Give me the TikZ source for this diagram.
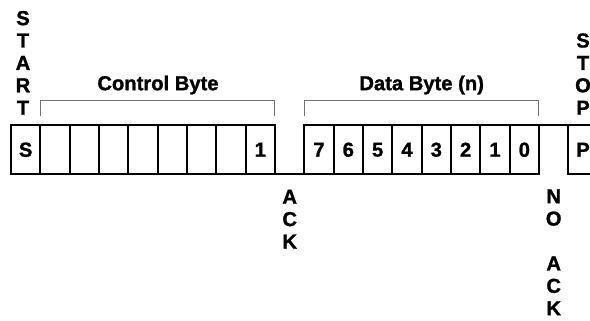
\documentclass[tikz,border=0pt]{standalone}
\usepackage{fontspec}
\newfontfamily\labfont{Liberation Sans}[BoldFeatures={FakeBold=1.2}]
\begin{document}
\begin{tikzpicture}[x=1pt,y=-1pt,
  lbl/.style={font=\labfont\bfseries\fontsize{20.2}{22}\selectfont, text height=14.4pt, text depth=0pt, inner sep=0pt},
  cell/.style={lbl, draw=black, line width=1.8pt, minimum width=29.333pt, minimum height=49pt, outer sep=0pt},
  bracket/.style={draw=black!55, line width=1pt},
  wire/.style={draw=black, line width=1.8pt, line join=miter}]
\useasboundingbox (0,0) rectangle (590,321);
\clip (0,0) rectangle (590,321);
% cells
\node[cell] (s) at (25.667,149.5) {S};
\foreach \i in {1,...,7}
  \node[cell] (c\i) at ({11+(\i+0.5)*29.333},149.5) {};
\node[cell] (c8) at ({11+8.5*29.333},149.5) {1};
\foreach \b [count=\k from 10] in {7,6,5,4,3,2,1,0}
  \node[cell] (d\b) at ({11+(\k+0.5)*29.333},149.5) {\b};
\node[cell] (p) at ({11+19.5*29.333},149.5) {P};
% ACK (low) and NO ACK (high) slots
\draw[wire] (c8.north east) -- (c8.south east) -- (d7.south west) -- (d7.north west);
\draw[wire] (d0.south east) -- (d0.north east) -- (p.north west) -- (p.south west);
% brackets
\draw[bracket] ([yshift=9pt]c1.north west) -- ([yshift=24pt]c1.north west) -- ([yshift=24pt]c8.north east) -- ([yshift=9pt]c8.north east);
\draw[bracket] ([yshift=9pt]d7.north west) -- ([yshift=24pt]d7.north west) -- ([yshift=24pt]d0.north east) -- ([yshift=9pt]d0.north east);
% labels
\node[lbl] (cb) at (158,83) {Control Byte};
\node[lbl] (db) at (421.7,83) {Data Byte (n)};
\foreach \l [count=\k from 0] in {S,T,A,R,T}
  \node[lbl] (start\k) at (23,{17.9+22.4*\k}) {\l};
\foreach \l [count=\k from 0] in {S,T,O,P}
  \node[lbl] (stop\k) at (583,{40.3+22.4*\k}) {\l};
\foreach \l [count=\k from 0] in {A,C,K}
  \node[lbl] (ack\k) at (289.7,{196.5+22.4*\k}) {\l};
\node[lbl] (nack0) at (553.7,196) {N};
\node[lbl] (nack1) at (553.7,218.4) {O};
\node[lbl] (nack2) at (553.7,263.2) {A};
\node[lbl] (nack3) at (553.7,285.6) {C};
\node[lbl] (nack4) at (553.7,308) {K};
\end{tikzpicture}
\end{document}
